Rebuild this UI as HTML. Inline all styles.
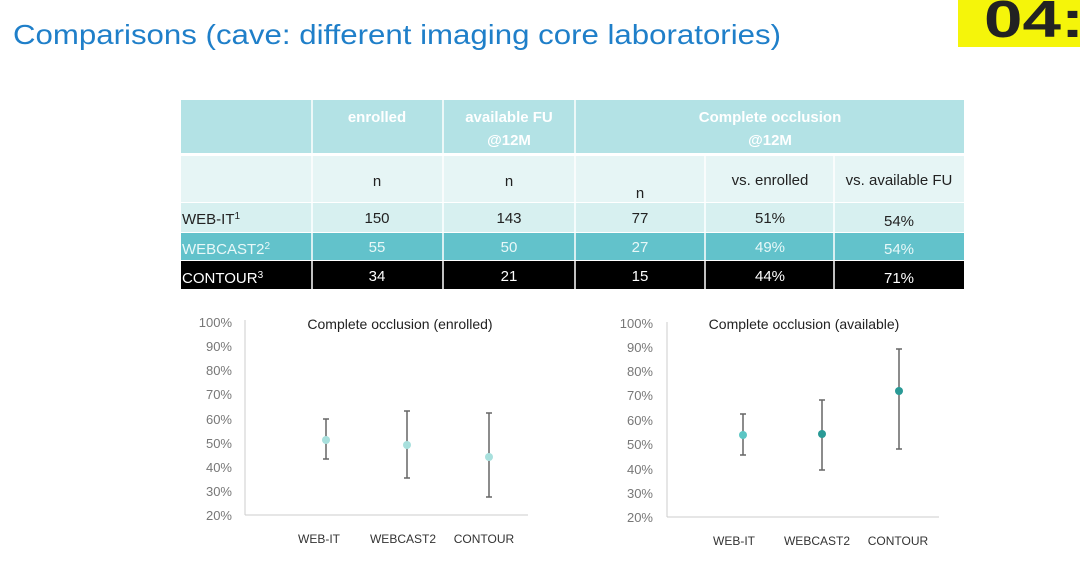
<!DOCTYPE html>
<html><head><meta charset="utf-8"><style>
body{margin:0;width:1080px;height:573px;background:#fff;overflow:hidden;font-family:"Liberation Sans",sans-serif}
</style></head><body>
<svg width="1080" height="573" xmlns="http://www.w3.org/2000/svg" font-family="Liberation Sans, sans-serif">
<text x="13" y="44" font-size="28" fill="#1f7fc9" textLength="768" lengthAdjust="spacingAndGlyphs">Comparisons (cave: different imaging core laboratories)</text>
<rect x="958" y="0" width="122" height="47" fill="#f5f50a"/>
<text x="984" y="37" font-size="52" font-weight="bold" fill="#222" textLength="100" lengthAdjust="spacingAndGlyphs">04:</text>
<!-- table -->
<rect x="181" y="100" width="783" height="53" fill="#b3e2e5"/>
<rect x="181" y="156" width="783" height="46" fill="#e6f5f5"/>
<rect x="181" y="203" width="783" height="29" fill="#d7f0f0"/>
<rect x="181" y="233" width="783" height="27" fill="#62c2cb"/>
<rect x="181" y="261" width="783" height="28" fill="#000"/>
<g stroke="#fff" stroke-width="1.5">
<line x1="312" y1="100" x2="312" y2="289"/><line x1="443" y1="100" x2="443" y2="289"/><line x1="575" y1="100" x2="575" y2="289"/>
<line x1="705" y1="156" x2="705" y2="289"/><line x1="834" y1="156" x2="834" y2="289"/>
</g>
<g font-size="15" fill="#fff" font-weight="bold" text-anchor="middle">
<text x="377" y="122">enrolled</text><text x="509" y="122">available FU</text><text x="509" y="145">@12M</text>
<text x="770" y="122">Complete occlusion</text><text x="770" y="145">@12M</text></g>
<g font-size="15" fill="#222" text-anchor="middle">
<text x="377" y="186">n</text><text x="509" y="186">n</text><text x="640" y="198">n</text>
<text x="770" y="185">vs. enrolled</text><text x="899" y="185">vs. available FU</text>
<text x="377" y="223">150</text><text x="509" y="223">143</text><text x="640" y="223">77</text><text x="770" y="223">51%</text><text x="899" y="226">54%</text>
</g>
<text x="182" y="224" font-size="15" fill="#222">WEB-IT<tspan font-size="10" dy="-5">1</tspan></text>
<g font-size="15" fill="#e8f8f8" text-anchor="middle">
<text x="377" y="252">55</text><text x="509" y="252">50</text><text x="640" y="252">27</text><text x="770" y="252">49%</text><text x="899" y="254">54%</text></g>
<text x="182" y="254" font-size="15" fill="#e8f8f8">WEBCAST2<tspan font-size="10" dy="-5">2</tspan></text>
<g font-size="15" fill="#fff" text-anchor="middle">
<text x="377" y="281">34</text><text x="509" y="281">21</text><text x="640" y="281">15</text><text x="770" y="281">44%</text><text x="899" y="283">71%</text></g>
<text x="182" y="283" font-size="15" fill="#fff">CONTOUR<tspan font-size="10" dy="-5">3</tspan></text>
<!-- left chart -->
<g font-size="13" fill="#777" text-anchor="end">
<text x="232" y="327">100%</text><text x="232" y="351">90%</text><text x="232" y="375">80%</text><text x="232" y="399">70%</text><text x="232" y="448">50%</text><text x="232" y="424">60%</text><text x="232" y="472">40%</text><text x="232" y="496">30%</text><text x="232" y="520">20%</text></g>
<line x1="245" y1="320" x2="245" y2="515" stroke="#ccc"/><line x1="245" y1="515" x2="528" y2="515" stroke="#ccc"/>
<text x="400" y="329" font-size="14" fill="#222" text-anchor="middle">Complete occlusion (enrolled)</text>
<g stroke="#666" stroke-width="1.5">
<line x1="326" y1="419" x2="326" y2="459"/><line x1="323" y1="419" x2="329" y2="419"/><line x1="323" y1="459" x2="329" y2="459"/>
<line x1="407" y1="411" x2="407" y2="478"/><line x1="404" y1="411" x2="410" y2="411"/><line x1="404" y1="478" x2="410" y2="478"/>
<line x1="489" y1="413" x2="489" y2="497"/><line x1="486" y1="413" x2="492" y2="413"/><line x1="486" y1="497" x2="492" y2="497"/></g>
<g fill="#a8e0dd"><circle cx="326" cy="440" r="4"/><circle cx="407" cy="445" r="4"/><circle cx="489" cy="457" r="4"/></g>
<g font-size="12" fill="#333" text-anchor="middle"><text x="319" y="543">WEB-IT</text><text x="403" y="543">WEBCAST2</text><text x="484" y="543">CONTOUR</text></g>
<!-- right chart -->
<g font-size="13" fill="#777" text-anchor="end">
<text x="653" y="328">100%</text><text x="653" y="352">90%</text><text x="653" y="376">80%</text><text x="653" y="400">70%</text><text x="653" y="425">60%</text><text x="653" y="449">50%</text><text x="653" y="474">40%</text><text x="653" y="498">30%</text><text x="653" y="522">20%</text></g>
<line x1="667" y1="322" x2="667" y2="517" stroke="#ccc"/><line x1="667" y1="517" x2="939" y2="517" stroke="#ccc"/>
<text x="804" y="329" font-size="14" fill="#222" text-anchor="middle">Complete occlusion (available)</text>
<g stroke="#666" stroke-width="1.5">
<line x1="743" y1="414" x2="743" y2="455"/><line x1="740" y1="414" x2="746" y2="414"/><line x1="740" y1="455" x2="746" y2="455"/>
<line x1="822" y1="400" x2="822" y2="470"/><line x1="819" y1="400" x2="825" y2="400"/><line x1="819" y1="470" x2="825" y2="470"/>
<line x1="899" y1="349" x2="899" y2="449"/><line x1="896" y1="349" x2="902" y2="349"/><line x1="896" y1="449" x2="902" y2="449"/></g>
<circle cx="743" cy="435" r="4" fill="#5cc6c4"/><circle cx="822" cy="434" r="4" fill="#2a9a96"/><circle cx="899" cy="391" r="4" fill="#2a9a96"/>
<g font-size="12" fill="#333" text-anchor="middle"><text x="734" y="545">WEB-IT</text><text x="817" y="545">WEBCAST2</text><text x="898" y="545">CONTOUR</text></g>
</svg>
</body></html>
